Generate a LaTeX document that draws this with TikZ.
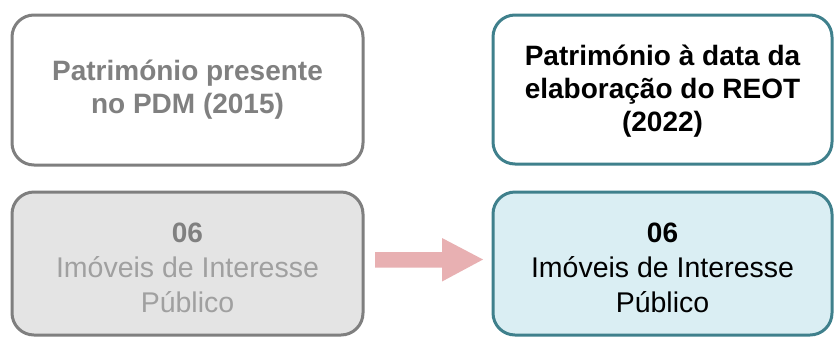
\documentclass[tikz,border=0pt]{standalone}
\usepackage{fontspec}
\setmainfont{Liberation Sans}
\definecolor{grayline}{HTML}{7F7F7F}
\definecolor{graytext}{HTML}{808080}
\definecolor{lighttext}{HTML}{A0A0A0}
\definecolor{grayfill}{HTML}{E4E4E4}
\definecolor{tealline}{HTML}{3F808C}
\definecolor{bluefill}{HTML}{DAEEF3}
\definecolor{arrowpink}{HTML}{E8B0B2}
\newcommand{\numline}[1]{\rule{0pt}{28pt}{\fontsize{28}{35}\selectfont\bfseries #1}}
\begin{document}
\begin{tikzpicture}[x=1pt,y=-1pt,
  box/.style={draw, line width=3pt, rounded corners=22pt, align=center, inner sep=0pt},
  graybox/.style={box, draw=grayline},
  tealbox/.style={box, draw=tealline},
  headtxt/.style={font=\fontsize{28}{33}\selectfont\bfseries},
  bodytxt/.style={font=\fontsize{28.5}{35}\selectfont}
]
\useasboundingbox[fill=white] (0,0) rectangle (834,338);
\node[graybox, fill=white, minimum width=351pt, minimum height=150pt, headtxt, text=graytext] (tl) at (187.5,90)
  {Património presente\\no PDM (2015)};
\node[tealbox, fill=white, minimum width=339pt, minimum height=149pt, headtxt, text=black] (tr) at (662.5,89.5)
  {\rule{0pt}{24pt}Património à data da\\elaboração do REOT\\(2022)};
\node[graybox, fill=grayfill, minimum width=351pt, minimum height=143pt, bodytxt, text=lighttext] (bl) at (187.5,263.5)
  {{\color{graytext}\numline{06}}\\Imóveis de Interesse\\Público};
\node[tealbox, fill=bluefill, minimum width=339pt, minimum height=143pt, bodytxt, text=black] (br) at (662.5,263.5)
  {\numline{06}\\Imóveis de Interesse\\Público};
\coordinate (as) at (375,259.5);
\coordinate (ae) at (483,259.5);
\fill[arrowpink] (as) ++(0,-7.5) -- ++(67,0) -- ++(0,-14) -- (ae) -- ++(-41,22) -- ++(0,-14) -- ++(-67,0) -- cycle;
\end{tikzpicture}
\end{document}
